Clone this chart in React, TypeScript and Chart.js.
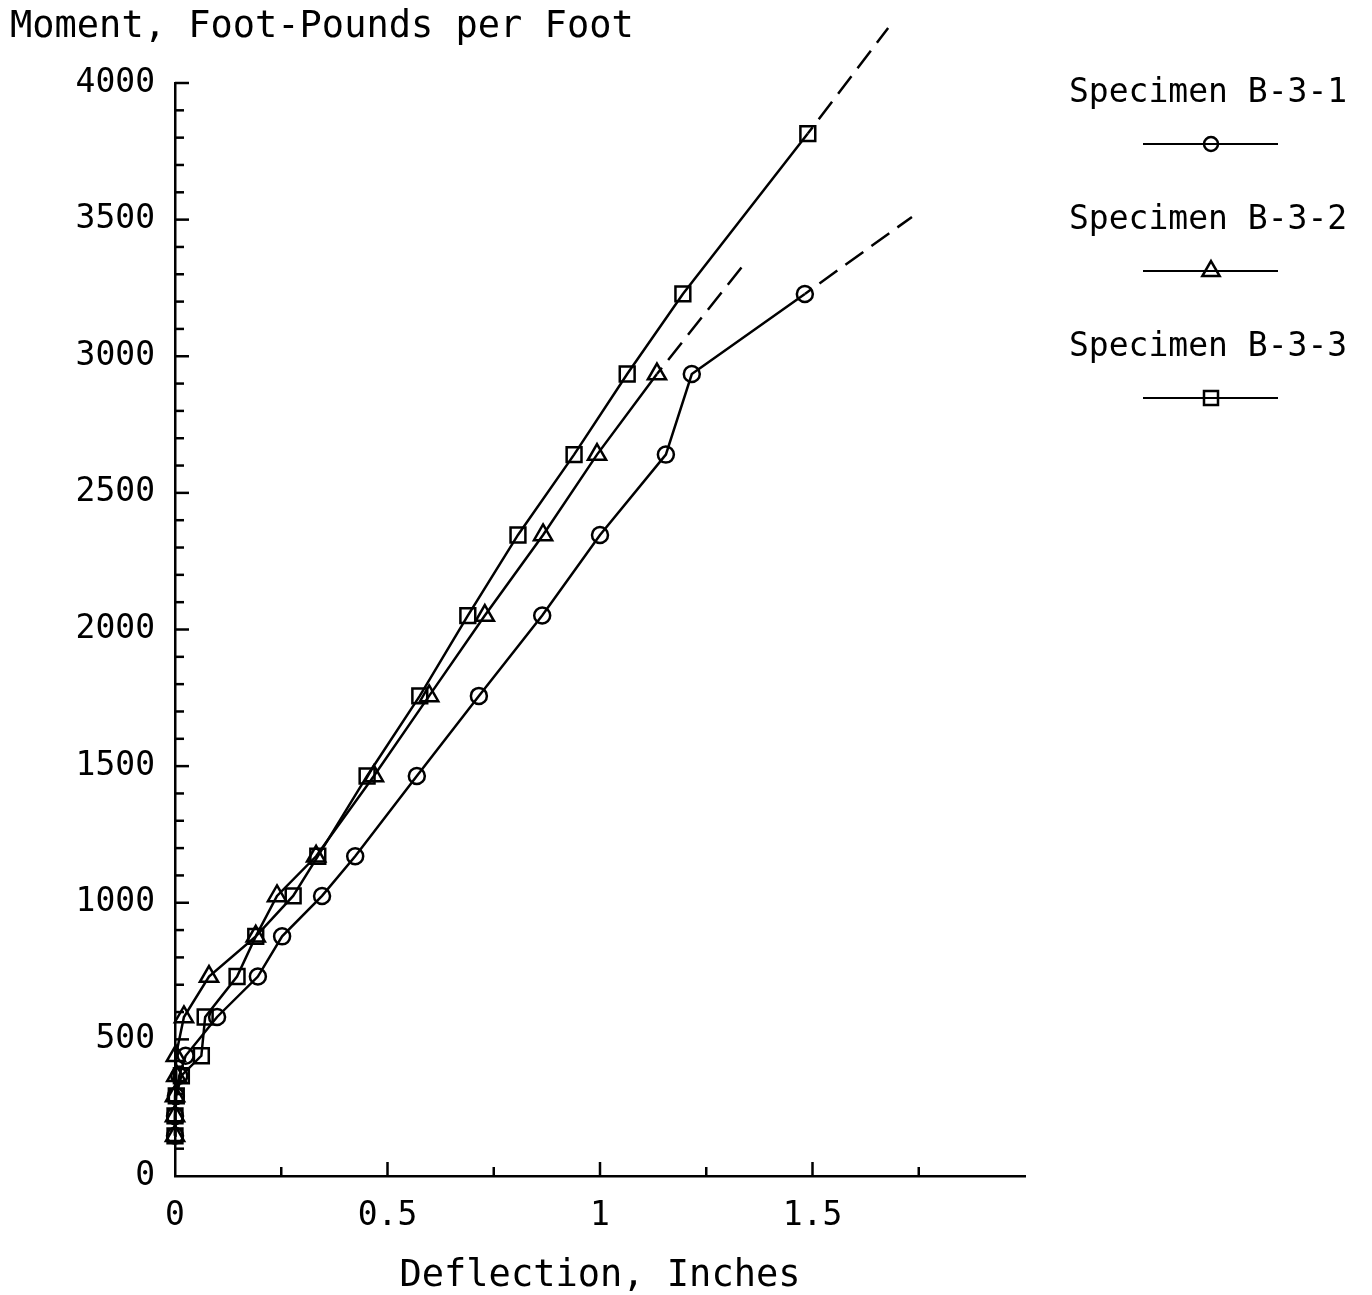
import React, { useEffect, useRef } from 'react';
import { Chart, registerables } from 'chart.js';

Chart.register(...registerables);

// Moment (foot-pounds per foot) at each load step
const momentB31 = [147, 220, 293, 367, 440, 582, 730, 877, 1025, 1170, 1464, 1757, 2051, 2346, 2640, 2935, 3228];
const deflB31 = [0.0, 0.0, 0.002, 0.01, 0.025, 0.099, 0.195, 0.252, 0.346, 0.424, 0.569, 0.715, 0.864, 1.0, 1.155, 1.216, 1.482];

const momentB32 = [147, 220, 293, 367, 440, 582, 730, 877, 1025, 1170, 1464, 1757, 2051, 2346, 2640, 2935];
const deflB32 = [0.0, 0.0, 0.0, 0.003, 0.002, 0.021, 0.08, 0.19, 0.24, 0.332, 0.468, 0.598, 0.729, 0.866, 0.993, 1.134];

const momentB33 = [147, 220, 293, 367, 440, 582, 730, 877, 1025, 1170, 1464, 1757, 2051, 2346, 2640, 2935, 3228, 3815];
const deflB33 = [0.0, 0.0, 0.003, 0.015, 0.062, 0.071, 0.146, 0.19, 0.278, 0.336, 0.452, 0.576, 0.689, 0.807, 0.939, 1.064, 1.195, 1.489];

// Dashed extrapolations
const extB31X = [1.482, 1.734];
const extB31Y = [3228, 3510];
const extB32X = [1.134, 1.341];
const extB32Y = [2935, 3341];
const extB33X = [1.489, 1.678];
const extB33Y = [3815, 4201];

const seriesNames = ['Specimen B-3-1', 'Specimen B-3-2', 'Specimen B-3-3'];
const seriesMarkers = ['circle', 'triangle', 'rect'];

const xTickLabels = ['0', '0.5', '1', '1.5'];

const FONT = "'DejaVu Sans Mono', 'Liberation Mono', monospace";

const pts = (xs: number[], ys: number[]) => xs.map((x, i) => ({ x, y: ys[i] }));

function drawMarker(ctx: CanvasRenderingContext2D, style: string, x: number, y: number) {
  ctx.beginPath();
  if (style === 'circle') {
    ctx.arc(x, y, 7, 0, Math.PI * 2);
  } else if (style === 'triangle') {
    const r = 10;
    ctx.moveTo(x, y - r);
    ctx.lineTo(x + r * 0.866, y + r * 0.5);
    ctx.lineTo(x - r * 0.866, y + r * 0.5);
    ctx.closePath();
  } else {
    ctx.rect(x - 7, y - 7, 14, 14);
  }
  ctx.stroke();
}

const decorPlugin = {
  id: 'decor',
  afterDraw(chart: any) {
    const ctx: CanvasRenderingContext2D = chart.ctx;
    const xs = chart.scales.x;
    const ys = chart.scales.y;
    ctx.save();
    ctx.strokeStyle = '#000';
    ctx.lineWidth = 2.5;
    // inward minor/major ticks on Y
    for (let v = 100; v <= 4000; v += 100) {
      const p = ys.getPixelForValue(v);
      const len = v % 500 === 0 ? 14 : 9;
      ctx.beginPath();
      ctx.moveTo(xs.left, p);
      ctx.lineTo(xs.left + len, p);
      ctx.stroke();
    }
    // inward ticks on X
    for (let i = 1; i <= 7; i++) {
      const v = i * 0.25;
      const p = xs.getPixelForValue(v);
      const len = i % 2 === 0 ? 14 : 9;
      ctx.beginPath();
      ctx.moveTo(p, ys.bottom);
      ctx.lineTo(p, ys.bottom - len);
      ctx.stroke();
    }
    // axis titles
    ctx.fillStyle = '#000';
    ctx.font = `37px ${FONT}`;
    ctx.textBaseline = 'middle';
    ctx.textAlign = 'left';
    ctx.fillText('Moment, Foot-Pounds per Foot', 10, 27);
    ctx.textAlign = 'center';
    ctx.fillText('Deflection, Inches', (xs.left + xs.right) / 2, 1276);
    // legend
    ctx.font = `33px ${FONT}`;
    ctx.textAlign = 'left';
    ctx.lineWidth = 2;
    seriesNames.forEach((name, i) => {
      const ty = 93 + i * 127;
      const ly = 144 + i * 127;
      ctx.fillText(name, 1069, ty);
      ctx.beginPath();
      ctx.moveTo(1143, ly);
      ctx.lineTo(1278, ly);
      ctx.stroke();
      ctx.save();
      ctx.lineWidth = 2.5;
      drawMarker(ctx, seriesMarkers[i], 1211, ly);
      ctx.restore();
    });
    ctx.restore();
  },
};

export default function App() {
  const ref = useRef<HTMLCanvasElement | null>(null);
  useEffect(() => {
    if (!ref.current) return;
    const solid = (label: string, data: any, style: string, radius: number) => ({
      label,
      data,
      borderColor: '#000',
      borderWidth: 2.5,
      pointStyle: style,
      pointRadius: radius,
      pointBorderWidth: 2.5,
      pointBorderColor: '#000',
      pointBackgroundColor: 'rgba(0,0,0,0)',
      showLine: true,
      tension: 0,
      clip: false,
    });
    const dashed = (data: any) => ({
      label: '',
      data,
      borderColor: '#000',
      borderWidth: 2.5,
      borderDash: [22, 10],
      borderDashOffset: 14,
      pointRadius: 0,
      showLine: true,
      clip: false,
    });
    const chart = new Chart(ref.current, {
      type: 'scatter',
      data: {
        datasets: [
          solid(seriesNames[0], pts(deflB31, momentB31), seriesMarkers[0], 8),
          solid(seriesNames[1], pts(deflB32, momentB32), seriesMarkers[1], 10.5),
          solid(seriesNames[2], pts(deflB33, momentB33), seriesMarkers[2], 10.5),
          dashed(pts(extB31X, extB31Y)),
          dashed(pts(extB32X, extB32Y)),
          dashed(pts(extB33X, extB33Y)),
        ] as any,
      },
      options: {
        animation: false,
        responsive: false,
        devicePixelRatio: 1,
        layout: { padding: { left: 0, top: 83, right: 347, bottom: 0 } },
        plugins: { legend: { display: false }, tooltip: { enabled: false }, title: { display: false } },
        scales: {
          x: {
            type: 'linear',
            min: 0,
            max: 2,
            grid: { display: false, drawTicks: false },
            border: { display: true, color: '#000', width: 2.5 },
            ticks: {
              stepSize: 0.5,
              color: '#000',
              padding: 21,
              font: { family: FONT, size: 33 },
              callback: (v: any) => {
                const i = Math.round(Number(v) / 0.5);
                return i < xTickLabels.length ? xTickLabels[i] : '';
              },
            },
            afterFit: (s: any) => { s.height = 119; },
          },
          y: {
            type: 'linear',
            min: 0,
            max: 4000,
            grid: { display: false, drawTicks: false },
            border: { display: true, color: '#000', width: 2.5 },
            ticks: {
              stepSize: 500,
              color: '#000',
              padding: 20,
              font: { family: FONT, size: 33 },
              callback: (v: any) => String(v),
            },
            afterFit: (s: any) => { s.width = 175; },
          },
        },
      } as any,
      plugins: [decorPlugin],
    });
    return () => chart.destroy();
  }, []);
  return (
    <div style={{ position: 'absolute', left: 0, top: 0, width: 1372, height: 1295, background: '#fff' }}>
      <canvas ref={ref} width={1372} height={1295} style={{ width: 1372, height: 1295, display: 'block' }} />
    </div>
  );
}
